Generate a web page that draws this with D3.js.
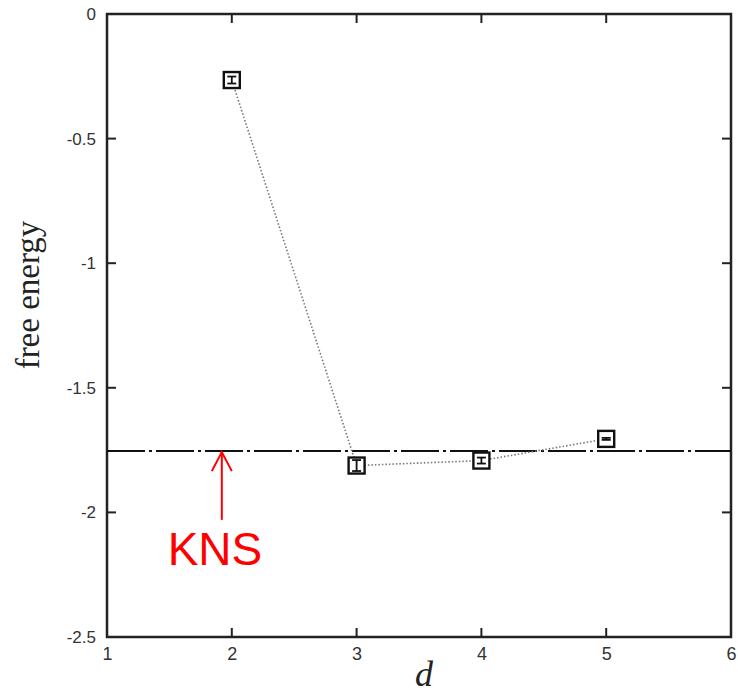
<!DOCTYPE html>
<html>
<head>
<meta charset="utf-8">
<script src="https://cdn.jsdelivr.net/npm/d3@7"></script>
<style>
  body { margin: 0; background: #fff; }
  .tick text { font-family: "Liberation Sans", Arial, sans-serif; }
</style>
</head>
<body>
<div id="chart"></div>
<script>
// data
var dims = [2, 3, 4, 5];
var freeEnergy = [-0.265, -1.812, -1.792, -1.705];
var errors = [0.014, 0.022, 0.012, 0.004];
var knsValue = -1.754;
var xTicks = [1, 2, 3, 4, 5, 6];
var yTicks = [0, -0.5, -1, -1.5, -2, -2.5];

var W = 738, H = 694;
var margin = {top: 14, right: 7, bottom: 57, left: 107};
var width = W - margin.left - margin.right;
var height = H - margin.top - margin.bottom;

var svg = d3.select("#chart").append("svg")
    .attr("width", W).attr("height", H);

var g = svg.append("g")
    .attr("transform", "translate(" + margin.left + "," + margin.top + ")");

var x = d3.scaleLinear().domain([1, 6]).range([0, width]);
var y = d3.scaleLinear().domain([-2.5, 0]).range([height, 0]);

// inward ticks on all four sides
var tickLen = 9;
var inner = xTicks.slice(1, -1);
var innerY = yTicks.slice(1, -1);

g.selectAll(".tb").data(inner).enter().append("line")
    .attr("x1", d => x(d)).attr("x2", d => x(d))
    .attr("y1", height).attr("y2", height - tickLen)
    .attr("stroke", "#222").attr("stroke-width", 2);
g.selectAll(".tt").data(inner).enter().append("line")
    .attr("x1", d => x(d)).attr("x2", d => x(d))
    .attr("y1", 0).attr("y2", tickLen)
    .attr("stroke", "#222").attr("stroke-width", 2);
g.selectAll(".tl").data(innerY).enter().append("line")
    .attr("x1", 0).attr("x2", tickLen)
    .attr("y1", d => y(d)).attr("y2", d => y(d))
    .attr("stroke", "#222").attr("stroke-width", 2);
g.selectAll(".tr").data(innerY).enter().append("line")
    .attr("x1", width).attr("x2", width - tickLen)
    .attr("y1", d => y(d)).attr("y2", d => y(d))
    .attr("stroke", "#222").attr("stroke-width", 2);

// tick labels
var xAxis = g.append("g").attr("transform", "translate(0," + height + ")")
    .call(d3.axisBottom(x).tickValues(xTicks).tickSize(0).tickPadding(10).tickFormat(d3.format("d")));
xAxis.select(".domain").remove();
xAxis.selectAll("text").attr("font-size", 18).attr("fill", "#333");

var yAxis = g.append("g")
    .call(d3.axisLeft(y).tickValues(yTicks).tickSize(0).tickPadding(11).tickFormat(d => d));
yAxis.select(".domain").remove();
yAxis.selectAll("text").attr("font-size", 17).attr("fill", "#333");

// frame
g.append("rect").attr("width", width).attr("height", height)
    .attr("fill", "none").attr("stroke", "#222").attr("stroke-width", 2.5);

// KNS reference line
g.append("line")
    .attr("x1", 0).attr("x2", width)
    .attr("y1", y(knsValue)).attr("y2", y(knsValue))
    .attr("stroke", "#111").attr("stroke-width", 2)
    .attr("stroke-dasharray", "38,4,3,4");

// connecting dotted line
var pts = dims.map((d, i) => ({d: d, v: freeEnergy[i], e: errors[i]}));
g.append("path").datum(pts)
    .attr("d", d3.line().x(p => x(p.d)).y(p => y(p.v)))
    .attr("fill", "none").attr("stroke", "#777")
    .attr("stroke-width", 1.6).attr("stroke-dasharray", "1.5,2");

// square markers with error bars
var s = 16;
var mk = g.selectAll(".pt").data(pts).enter().append("g")
    .attr("transform", p => "translate(" + x(p.d) + "," + y(p.v) + ")");
mk.append("rect")
    .attr("x", -s / 2).attr("y", -s / 2).attr("width", s).attr("height", s)
    .attr("fill", "#fff").attr("stroke", "#111").attr("stroke-width", 2.4);
mk.append("line")
    .attr("x1", 0).attr("x2", 0)
    .attr("y1", p => y(p.v + p.e) - y(p.v)).attr("y2", p => y(p.v - p.e) - y(p.v))
    .attr("stroke", "#111").attr("stroke-width", 1.8);
mk.append("line")
    .attr("x1", -4.5).attr("x2", 4.5)
    .attr("y1", p => y(p.v + p.e) - y(p.v)).attr("y2", p => y(p.v + p.e) - y(p.v))
    .attr("stroke", "#111").attr("stroke-width", 1.8);
mk.append("line")
    .attr("x1", -4.5).attr("x2", 4.5)
    .attr("y1", p => y(p.v - p.e) - y(p.v)).attr("y2", p => y(p.v - p.e) - y(p.v))
    .attr("stroke", "#111").attr("stroke-width", 1.8);

// KNS annotation
var ax = x(1.92), aTop = y(knsValue) + 1, aBot = y(-2.03);
g.append("line").attr("x1", ax).attr("x2", ax).attr("y1", aTop).attr("y2", aBot)
    .attr("stroke", "#f00").attr("stroke-width", 2);
g.append("path")
    .attr("d", "M" + (ax - 10) + "," + (aTop + 19) + "L" + ax + "," + aTop + "L" + (ax + 10) + "," + (aTop + 19))
    .attr("fill", "none").attr("stroke", "#f00").attr("stroke-width", 2);
g.append("text")
    .attr("x", x(1.865)).attr("y", y(-2.213))
    .attr("text-anchor", "middle")
    .attr("font-family", "Liberation Sans, Arial, sans-serif")
    .attr("font-size", 46).attr("fill", "#f00")
    .text("KNS");

// axis titles
svg.append("text")
    .attr("transform", "translate(39,295) rotate(-90)")
    .attr("text-anchor", "middle")
    .attr("font-family", "Liberation Serif, Times New Roman, serif")
    .attr("font-size", 33).attr("fill", "#222")
    .text("free energy");
svg.append("text")
    .attr("x", 424).attr("y", 686)
    .attr("text-anchor", "middle")
    .attr("font-family", "Liberation Serif, Times New Roman, serif")
    .attr("font-style", "italic")
    .attr("font-size", 36).attr("fill", "#222")
    .text("d");
</script>
</body>
</html>
